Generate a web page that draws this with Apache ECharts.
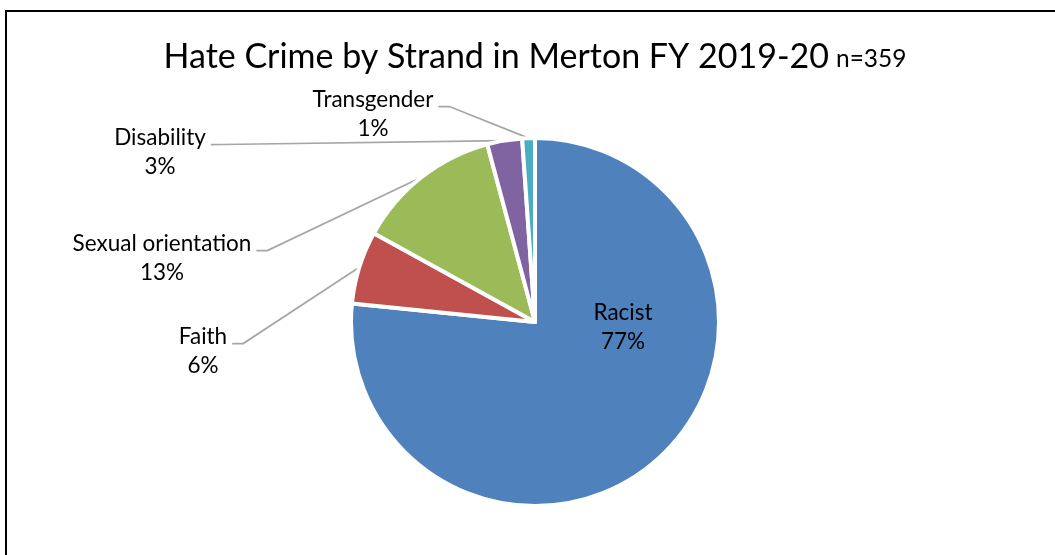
<!DOCTYPE html>
<html>
<head>
<meta charset="utf-8">
<script src="https://cdn.jsdelivr.net/npm/echarts@6/dist/echarts.min.js"></script>
<style>
  html, body { margin: 0; padding: 0; background: #fff; }
  #chart { width: 1055px; height: 555px; }
</style>
</head>
<body>
<div id="chart"></div>
<script>
// Hate crime strands, Merton FY 2019-20 (n = 359)
const strands = ['Racist', 'Faith', 'Sexual orientation', 'Disability', 'Transgender'];
const counts = [275, 23, 46, 11, 4];
const colours = ['#4F81BD', '#C0504D', '#9BBB59', '#8064A2', '#4BACC6'];

const titleText = 'Hate Crime by Strand in Merton FY 2019-20';
const sampleText = 'n=359';

// Where each two-line label block is centred (px)
const labelSpots = [[623, 327], [203, 351], [162, 258], [160, 152], [373, 114]];

const FONT = 'Lato, "Open Sans", sans-serif';
const LABEL_SIZE = 22.5;
const LINE_H = 29;

const chart = echarts.init(document.getElementById('chart'), null, { renderer: 'canvas' });

const pieData = strands.map((name, i) => ({
  name: name,
  value: counts[i],
  itemStyle: { color: colours[i] },
  label: { position: i === 0 ? 'inside' : 'outside' },
  labelLine: { show: i !== 0 }
}));

chart.setOption({
  animation: false,
  backgroundColor: '#ffffff',
  graphic: [
    {
      type: 'rect',
      z: -10,
      shape: { x: 6, y: 11, width: 1200, height: 700 },
      style: { fill: 'none', stroke: '#000000', lineWidth: 2 }
    },
    {
      type: 'text',
      x: 535,
      y: 57,
      style: {
        text: '{a|' + titleText + '}{b|' + sampleText + '}',
        align: 'center',
        verticalAlign: 'middle',
        fill: '#000',
        rich: {
          a: { fontFamily: FONT, fontSize: 34, lineHeight: 34, verticalAlign: 'bottom', fill: '#000' },
          b: { fontFamily: FONT, fontSize: 24.5, lineHeight: 24.5, verticalAlign: 'bottom', fill: '#000', padding: [0, 0, 2, 7] }
        }
      }
    }
  ],
  series: [{
    type: 'pie',
    center: [535, 322],
    radius: 184,
    startAngle: 90,
    clockwise: true,
    avoidLabelOverlap: false,
    itemStyle: { borderColor: '#ffffff', borderWidth: 4 },
    label: {
      show: true,
      fontFamily: FONT,
      fontSize: LABEL_SIZE,
      lineHeight: LINE_H,
      color: '#000',
      align: 'center',
      formatter: p => p.name + '\n' + Math.round(p.percent) + '%'
    },
    labelLine: {
      lineStyle: { color: '#A6A6A6', width: 1.75 }
    },
    labelLayout: function (p) {
      const spot = labelSpots[p.dataIndex];
      const out = { x: spot[0], y: spot[1], align: 'center', verticalAlign: 'middle' };
      if (p.labelLinePoints && p.labelLinePoints.length) {
        const nameRight = spot[0] + p.labelRect.width / 2;
        const yLine = spot[1] - LINE_H / 2 + 7;
        out.labelLinePoints = [
          p.labelLinePoints[0],
          [nameRight + 16, yLine],
          [nameRight + 5, yLine]
        ];
      }
      return out;
    },
    emphasis: { disabled: true },
    data: pieData
  }]
});
</script>
</body>
</html>
